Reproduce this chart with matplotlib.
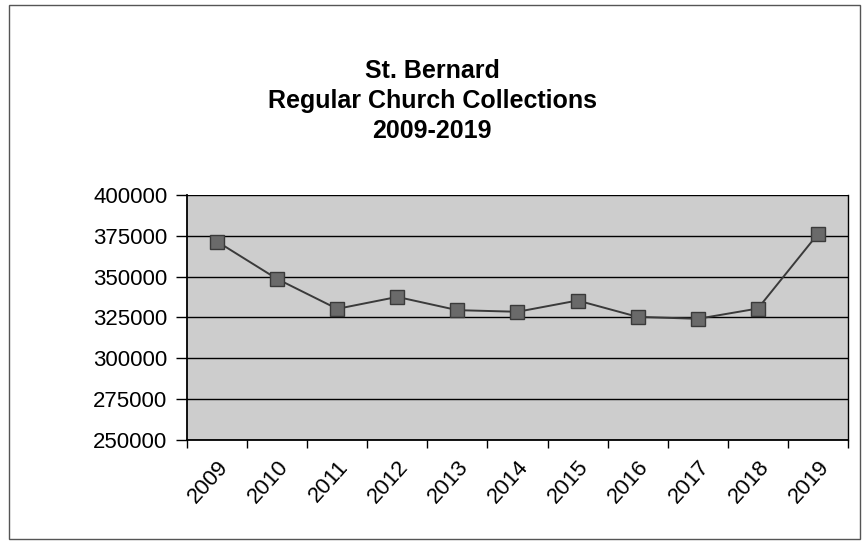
import matplotlib.pyplot as plt
import numpy as np
from matplotlib.patches import Rectangle

plt.rcParams['font.family'] = ['Liberation Sans', 'DejaVu Sans']

years = ['2009', '2010', '2011', '2012', '2013', '2014',
         '2015', '2016', '2017', '2018', '2019']
collections = [371500, 348600, 330300, 337600, 329500, 328500,
               335400, 325400, 324200, 330500, 376200]
yticks = [250000, 275000, 300000, 325000, 350000, 375000, 400000]

x = np.arange(len(years))

fig = plt.figure(figsize=(8.64, 5.46), dpi=100)
ax = fig.add_axes([0.2164, 0.1941, 0.7651, 0.4488])

ax.set_facecolor('#cdcdcd')
ax.plot(x, collections, '-', color='#3a3a3a', linewidth=1.4, zorder=3)
ax.plot(x, collections, 's', markersize=10, markerfacecolor='#6a6a6a',
        markeredgecolor='#3a3a3a', markeredgewidth=1, zorder=4)

ax.set_ylim(250000, 400000)
ax.set_yticks(yticks)
ax.set_yticklabels([str(v) for v in yticks], fontsize=16)
ax.yaxis.grid(True, color='black', linewidth=1)
ax.set_axisbelow(True)

ax.set_xlim(-0.5, len(years) - 0.5)
ax.set_xticks(np.arange(-0.5, len(years), 1))
ax.set_xticklabels([])
ax.set_xticks(x, minor=True)
ax.set_xticklabels(years, minor=True, fontsize=16, rotation=48,
                   ha='right', rotation_mode='anchor')
ax.tick_params(axis='x', which='minor', length=0, pad=12)
ax.tick_params(axis='x', which='major', length=6, width=1, color='black')
ax.tick_params(axis='y', which='major', length=8, width=1, color='black', pad=6)

ax.spines['top'].set_visible(False)
ax.spines['right'].set_linewidth(1)
for s in ['left', 'bottom']:
    ax.spines[s].set_linewidth(1.3)

fig.text(0.5, 0.815, 'St. Bernard\nRegular Church Collections\n2009-2019',
         ha='center', va='center', fontsize=18, fontweight='bold',
         linespacing=1.3)

fig.patches.append(Rectangle((0.01, 0.012), 0.985, 0.978, transform=fig.transFigure,
                             fill=False, edgecolor='#555555', linewidth=1))

fig.savefig('out.png', dpi=100)
